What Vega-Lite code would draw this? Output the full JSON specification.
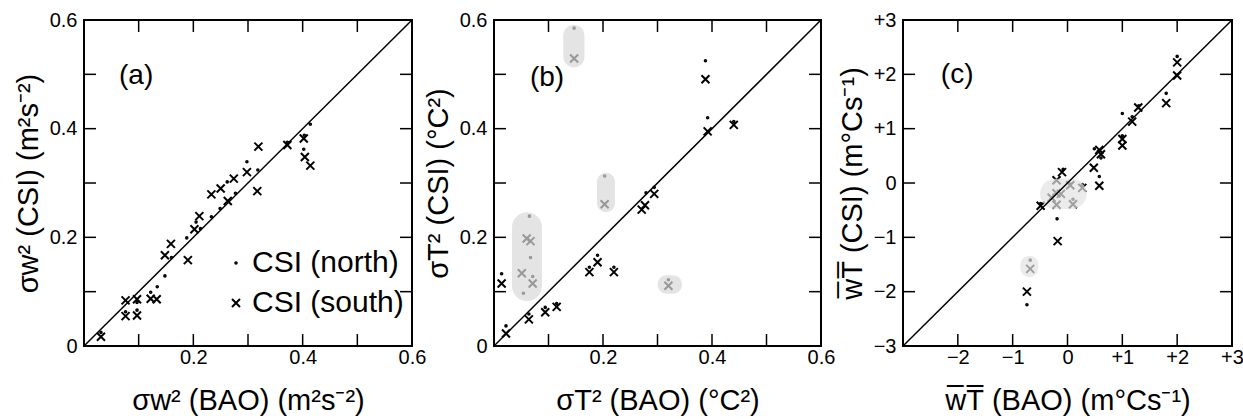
{
  "$schema": "https://vega.github.io/schema/vega-lite/v6.json",
  "background": "white",
  "padding": {"left": 14, "top": 10, "right": 0, "bottom": 5},
  "bounds": "flush",
  "spacing": 82,
  "config": {
    "view": {"stroke": null},
    "axis": {"grid": false, "domain": false, "ticks": false, "labelFont": "Liberation Sans", "labelFontSize": 20, "labelColor": "black", "labelFlush": false, "labelOverlap": false, "titleFont": "Liberation Sans", "titleFontSize": 29, "titleFontWeight": "normal", "titleColor": "black"},
    "axisX": {"labelPadding": 1, "titlePadding": 19},
    "axisY": {"labelPadding": 7, "titlePadding": 6},
    "legend": {"orient": "none", "legendX": 137, "legendY": 228, "title": null, "labelFont": "Liberation Sans", "labelFontSize": 30, "labelColor": "black", "symbolSize": 64, "symbolStrokeWidth": 2, "symbolStrokeColor": "black", "symbolFillColor": "transparent", "rowPadding": 10, "labelOffset": 1}
  },
  "datasets": {
    "one": [{}],
    "tk6": [{"v": 0.1}, {"v": 0.2}, {"v": 0.3}, {"v": 0.4}, {"v": 0.5}],
    "tk3": [{"v": -2}, {"v": -1}, {"v": 0}, {"v": 1}, {"v": 2}],
    "a": [
      {"bao": 0.031, "csi": 0.017, "site": "CSI (south)"},
      {"bao": 0.076, "csi": 0.084, "site": "CSI (south)"},
      {"bao": 0.076, "csi": 0.055, "site": "CSI (south)"},
      {"bao": 0.097, "csi": 0.086, "site": "CSI (south)"},
      {"bao": 0.097, "csi": 0.056, "site": "CSI (south)"},
      {"bao": 0.122, "csi": 0.087, "site": "CSI (south)"},
      {"bao": 0.133, "csi": 0.086, "site": "CSI (south)"},
      {"bao": 0.148, "csi": 0.167, "site": "CSI (south)"},
      {"bao": 0.159, "csi": 0.188, "site": "CSI (south)"},
      {"bao": 0.19, "csi": 0.158, "site": "CSI (south)"},
      {"bao": 0.202, "csi": 0.215, "site": "CSI (south)"},
      {"bao": 0.211, "csi": 0.239, "site": "CSI (south)"},
      {"bao": 0.233, "csi": 0.279, "site": "CSI (south)"},
      {"bao": 0.25, "csi": 0.29, "site": "CSI (south)"},
      {"bao": 0.263, "csi": 0.267, "site": "CSI (south)"},
      {"bao": 0.274, "csi": 0.308, "site": "CSI (south)"},
      {"bao": 0.298, "csi": 0.32, "site": "CSI (south)"},
      {"bao": 0.317, "csi": 0.285, "site": "CSI (south)"},
      {"bao": 0.319, "csi": 0.367, "site": "CSI (south)"},
      {"bao": 0.372, "csi": 0.37, "site": "CSI (south)"},
      {"bao": 0.402, "csi": 0.382, "site": "CSI (south)"},
      {"bao": 0.404, "csi": 0.348, "site": "CSI (south)"},
      {"bao": 0.414, "csi": 0.332, "site": "CSI (south)"},
      {"bao": 0.031, "csi": 0.025, "site": "CSI (north)"},
      {"bao": 0.076, "csi": 0.063, "site": "CSI (north)"},
      {"bao": 0.097, "csi": 0.066, "site": "CSI (north)"},
      {"bao": 0.097, "csi": 0.08, "site": "CSI (north)"},
      {"bao": 0.122, "csi": 0.099, "site": "CSI (north)"},
      {"bao": 0.134, "csi": 0.109, "site": "CSI (north)"},
      {"bao": 0.148, "csi": 0.129, "site": "CSI (north)"},
      {"bao": 0.16, "csi": 0.163, "site": "CSI (north)"},
      {"bao": 0.188, "csi": 0.199, "site": "CSI (north)"},
      {"bao": 0.205, "csi": 0.228, "site": "CSI (north)"},
      {"bao": 0.213, "csi": 0.216, "site": "CSI (north)"},
      {"bao": 0.233, "csi": 0.238, "site": "CSI (north)"},
      {"bao": 0.249, "csi": 0.253, "site": "CSI (north)"},
      {"bao": 0.262, "csi": 0.302, "site": "CSI (north)"},
      {"bao": 0.277, "csi": 0.281, "site": "CSI (north)"},
      {"bao": 0.298, "csi": 0.339, "site": "CSI (north)"},
      {"bao": 0.318, "csi": 0.324, "site": "CSI (north)"},
      {"bao": 0.372, "csi": 0.375, "site": "CSI (north)"},
      {"bao": 0.403, "csi": 0.388, "site": "CSI (north)"},
      {"bao": 0.414, "csi": 0.408, "site": "CSI (north)"},
      {"bao": 0.402, "csi": 0.362, "site": "CSI (north)"}
    ],
    "b": [
      {"bao": 0.147, "csi": 0.529, "site": "CSI (south)"},
      {"bao": 0.388, "csi": 0.491, "site": "CSI (south)"},
      {"bao": 0.392, "csi": 0.395, "site": "CSI (south)"},
      {"bao": 0.44, "csi": 0.407, "site": "CSI (south)"},
      {"bao": 0.203, "csi": 0.261, "site": "CSI (south)"},
      {"bao": 0.271, "csi": 0.251, "site": "CSI (south)"},
      {"bao": 0.277, "csi": 0.259, "site": "CSI (south)"},
      {"bao": 0.294, "csi": 0.28, "site": "CSI (south)"},
      {"bao": 0.06, "csi": 0.198, "site": "CSI (south)"},
      {"bao": 0.067, "csi": 0.193, "site": "CSI (south)"},
      {"bao": 0.051, "csi": 0.134, "site": "CSI (south)"},
      {"bao": 0.071, "csi": 0.115, "site": "CSI (south)"},
      {"bao": 0.014, "csi": 0.115, "site": "CSI (south)"},
      {"bao": 0.064, "csi": 0.049, "site": "CSI (south)"},
      {"bao": 0.094, "csi": 0.062, "site": "CSI (south)"},
      {"bao": 0.115, "csi": 0.072, "site": "CSI (south)"},
      {"bao": 0.022, "csi": 0.023, "site": "CSI (south)"},
      {"bao": 0.175, "csi": 0.136, "site": "CSI (south)"},
      {"bao": 0.19, "csi": 0.154, "site": "CSI (south)"},
      {"bao": 0.22, "csi": 0.136, "site": "CSI (south)"},
      {"bao": 0.32, "csi": 0.111, "site": "CSI (south)"},
      {"bao": 0.147, "csi": 0.585, "site": "CSI (north)"},
      {"bao": 0.388, "csi": 0.525, "site": "CSI (north)"},
      {"bao": 0.392, "csi": 0.42, "site": "CSI (north)"},
      {"bao": 0.44, "csi": 0.413, "site": "CSI (north)"},
      {"bao": 0.203, "csi": 0.313, "site": "CSI (north)"},
      {"bao": 0.279, "csi": 0.282, "site": "CSI (north)"},
      {"bao": 0.294, "csi": 0.292, "site": "CSI (north)"},
      {"bao": 0.065, "csi": 0.239, "site": "CSI (north)"},
      {"bao": 0.067, "csi": 0.163, "site": "CSI (north)"},
      {"bao": 0.071, "csi": 0.128, "site": "CSI (north)"},
      {"bao": 0.054, "csi": 0.097, "site": "CSI (north)"},
      {"bao": 0.014, "csi": 0.133, "site": "CSI (north)"},
      {"bao": 0.064, "csi": 0.059, "site": "CSI (north)"},
      {"bao": 0.094, "csi": 0.071, "site": "CSI (north)"},
      {"bao": 0.115, "csi": 0.078, "site": "CSI (north)"},
      {"bao": 0.022, "csi": 0.037, "site": "CSI (north)"},
      {"bao": 0.175, "csi": 0.145, "site": "CSI (north)"},
      {"bao": 0.19, "csi": 0.167, "site": "CSI (north)"},
      {"bao": 0.22, "csi": 0.145, "site": "CSI (north)"},
      {"bao": 0.32, "csi": 0.122, "site": "CSI (north)"}
    ],
    "c": [
      {"bao": 2.0, "csi": 2.22, "site": "CSI (south)"},
      {"bao": 2.0, "csi": 1.98, "site": "CSI (south)"},
      {"bao": 1.8, "csi": 1.47, "site": "CSI (south)"},
      {"bao": 1.29, "csi": 1.39, "site": "CSI (south)"},
      {"bao": 1.18, "csi": 1.13, "site": "CSI (south)"},
      {"bao": 1.0, "csi": 0.81, "site": "CSI (south)"},
      {"bao": 1.0, "csi": 0.69, "site": "CSI (south)"},
      {"bao": 0.58, "csi": 0.61, "site": "CSI (south)"},
      {"bao": 0.61, "csi": 0.53, "site": "CSI (south)"},
      {"bao": 0.48, "csi": 0.28, "site": "CSI (south)"},
      {"bao": 0.58, "csi": -0.05, "site": "CSI (south)"},
      {"bao": 0.27, "csi": -0.09, "site": "CSI (south)"},
      {"bao": 0.1, "csi": -0.39, "site": "CSI (south)"},
      {"bao": 0.05, "csi": -0.04, "site": "CSI (south)"},
      {"bao": -0.2, "csi": 0.05, "site": "CSI (south)"},
      {"bao": -0.1, "csi": 0.2, "site": "CSI (south)"},
      {"bao": -0.2, "csi": -0.19, "site": "CSI (south)"},
      {"bao": -0.29, "csi": -0.27, "site": "CSI (south)"},
      {"bao": -0.2, "csi": -0.4, "site": "CSI (south)"},
      {"bao": -0.12, "csi": -0.2, "site": "CSI (south)"},
      {"bao": -0.49, "csi": -0.42, "site": "CSI (south)"},
      {"bao": -0.18, "csi": -1.07, "site": "CSI (south)"},
      {"bao": -0.68, "csi": -1.58, "site": "CSI (south)"},
      {"bao": -0.74, "csi": -2.0, "site": "CSI (south)"},
      {"bao": 2.0, "csi": 2.33, "site": "CSI (north)"},
      {"bao": 1.8, "csi": 1.65, "site": "CSI (north)"},
      {"bao": 1.3, "csi": 1.42, "site": "CSI (north)"},
      {"bao": 1.18, "csi": 1.22, "site": "CSI (north)"},
      {"bao": 1.0, "csi": 1.28, "site": "CSI (north)"},
      {"bao": 1.0, "csi": 0.87, "site": "CSI (north)"},
      {"bao": 0.49, "csi": 0.63, "site": "CSI (north)"},
      {"bao": 0.61, "csi": 0.46, "site": "CSI (north)"},
      {"bao": 0.58, "csi": 0.12, "site": "CSI (north)"},
      {"bao": 0.27, "csi": -0.03, "site": "CSI (north)"},
      {"bao": 0.1, "csi": -0.3, "site": "CSI (north)"},
      {"bao": 0.05, "csi": -0.02, "site": "CSI (north)"},
      {"bao": -0.08, "csi": 0.25, "site": "CSI (north)"},
      {"bao": -0.49, "csi": -0.38, "site": "CSI (north)"},
      {"bao": -0.19, "csi": -0.66, "site": "CSI (north)"},
      {"bao": -0.68, "csi": -1.42, "site": "CSI (north)"},
      {"bao": -0.74, "csi": -2.24, "site": "CSI (north)"},
      {"bao": -0.25, "csi": -0.22, "site": "CSI (north)"}
    ],
    "shadeB": [
      {"x1": 0.127, "x2": 0.166, "y1": 0.513, "y2": 0.591},
      {"x1": 0.189, "x2": 0.222, "y1": 0.246, "y2": 0.319},
      {"x1": 0.033, "x2": 0.088, "y1": 0.083, "y2": 0.246},
      {"x1": 0.3, "x2": 0.345, "y1": 0.096, "y2": 0.13}
    ],
    "shadeC": [
      {"x1": -0.86, "x2": -0.53, "y1": -1.73, "y2": -1.34},
      {"x1": -0.5, "x2": 0.35, "y1": -0.48, "y2": 0.08}
    ]
  },
  "resolve": {"scale": {"shape": "independent"}, "legend": {"shape": "independent"}},
  "hconcat": [
    {
      "width": 328, "height": 326,
      "resolve": {"axis": {"x": "independent", "y": "independent"}},
      "encoding": {
        "x": {"type": "quantitative", "scale": {"domain": [0, 0.6], "nice": false}},
        "y": {"type": "quantitative", "scale": {"domain": [0, 0.6], "nice": false}}
      },
      "layer": [
        {
          "data": {"name": "a"},
          "mark": {"type": "point", "filled": false, "color": "black", "strokeWidth": 2, "size": 64, "opacity": 1},
          "encoding": {
            "x": {"field": "bao", "axis": {"orient": "bottom", "values": [0.2, 0.4, 0.6], "format": ".1f", "title": "σw² (BAO) (m²s⁻²)"}},
            "y": {"field": "csi", "axis": {"orient": "left", "values": [0, 0.2, 0.4, 0.6], "labelExpr": "datum.value < 0.01 ? '0' : format(datum.value, '.1f')", "title": "σw² (CSI) (m²s⁻²)"}},
            "shape": {"field": "site", "type": "nominal", "scale": {"domain": ["CSI (north)", "CSI (south)"], "range": ["M-0.2,0A0.2,0.2 0 1,0 0.2,0A0.2,0.2 0 1,0 -0.2,0Z", "M-1,-1L1,1M1,-1L-1,1"]}}
          }
        },
        {"data": {"name": "one"}, "mark": {"type": "rect", "filled": false, "stroke": "black", "strokeWidth": 2}, "encoding": {"x": {"datum": 0, "axis": null}, "x2": {"datum": 0.6}, "y": {"datum": 0, "axis": null}, "y2": {"datum": 0.6}}},
        {"data": {"name": "tk6"}, "mark": {"type": "rule", "color": "black", "strokeWidth": 1.5}, "encoding": {"x": {"field": "v", "axis": null}, "y": {"datum": 0, "axis": null}, "y2": {"datum": 0.022}}},
        {"data": {"name": "tk6"}, "mark": {"type": "rule", "color": "black", "strokeWidth": 1.5}, "encoding": {"x": {"field": "v", "axis": null}, "y": {"datum": 0.6, "axis": null}, "y2": {"datum": 0.578}}},
        {"data": {"name": "tk6"}, "mark": {"type": "rule", "color": "black", "strokeWidth": 1.5}, "encoding": {"y": {"field": "v", "axis": null}, "x": {"datum": 0, "axis": null}, "x2": {"datum": 0.022}}},
        {"data": {"name": "tk6"}, "mark": {"type": "rule", "color": "black", "strokeWidth": 1.5}, "encoding": {"y": {"field": "v", "axis": null}, "x": {"datum": 0.6, "axis": null}, "x2": {"datum": 0.578}}},
        {"data": {"name": "one"}, "mark": {"type": "rule", "color": "black", "strokeWidth": 1.5}, "encoding": {"x": {"datum": 0, "axis": null}, "y": {"datum": 0, "axis": null}, "x2": {"datum": 0.6}, "y2": {"datum": 0.6}}},
        {"data": {"name": "one"}, "mark": {"type": "text", "text": "(a)", "font": "Liberation Sans", "fontSize": 28, "align": "left", "baseline": "middle", "color": "black"}, "encoding": {"x": {"datum": 0.064, "axis": null}, "y": {"datum": 0.497, "axis": null}}}
      ]
    },
    {
      "width": 327, "height": 326,
      "resolve": {"axis": {"x": "independent", "y": "independent"}},
      "encoding": {
        "x": {"type": "quantitative", "scale": {"domain": [0, 0.6], "nice": false}},
        "y": {"type": "quantitative", "scale": {"domain": [0, 0.6], "nice": false}}
      },
      "layer": [
        {
          "data": {"name": "b"},
          "mark": {"type": "point", "filled": false, "color": "black", "strokeWidth": 2, "size": 64, "opacity": 1},
          "encoding": {
            "x": {"field": "bao", "axis": {"orient": "bottom", "values": [0.2, 0.4, 0.6], "format": ".1f", "title": "σT² (BAO) (°C²)"}},
            "y": {"field": "csi", "axis": {"orient": "left", "values": [0, 0.2, 0.4, 0.6], "labelExpr": "datum.value < 0.01 ? '0' : format(datum.value, '.1f')", "title": "σT² (CSI) (°C²)"}},
            "shape": {"field": "site", "type": "nominal", "legend": null, "scale": {"domain": ["CSI (north)", "CSI (south)"], "range": ["M-0.2,0A0.2,0.2 0 1,0 0.2,0A0.2,0.2 0 1,0 -0.2,0Z", "M-1,-1L1,1M1,-1L-1,1"]}}
          }
        },
        {"data": {"name": "shadeB"}, "mark": {"type": "rect", "color": "#d9d9d9", "cornerRadius": 100, "opacity": 0.7}, "encoding": {"x": {"field": "x1", "axis": null}, "x2": {"field": "x2"}, "y": {"field": "y1", "axis": null}, "y2": {"field": "y2"}}},
        {"data": {"name": "one"}, "mark": {"type": "rect", "filled": false, "stroke": "black", "strokeWidth": 2}, "encoding": {"x": {"datum": 0, "axis": null}, "x2": {"datum": 0.6}, "y": {"datum": 0, "axis": null}, "y2": {"datum": 0.6}}},
        {"data": {"name": "tk6"}, "mark": {"type": "rule", "color": "black", "strokeWidth": 1.5}, "encoding": {"x": {"field": "v", "axis": null}, "y": {"datum": 0, "axis": null}, "y2": {"datum": 0.022}}},
        {"data": {"name": "tk6"}, "mark": {"type": "rule", "color": "black", "strokeWidth": 1.5}, "encoding": {"x": {"field": "v", "axis": null}, "y": {"datum": 0.6, "axis": null}, "y2": {"datum": 0.578}}},
        {"data": {"name": "tk6"}, "mark": {"type": "rule", "color": "black", "strokeWidth": 1.5}, "encoding": {"y": {"field": "v", "axis": null}, "x": {"datum": 0, "axis": null}, "x2": {"datum": 0.022}}},
        {"data": {"name": "tk6"}, "mark": {"type": "rule", "color": "black", "strokeWidth": 1.5}, "encoding": {"y": {"field": "v", "axis": null}, "x": {"datum": 0.6, "axis": null}, "x2": {"datum": 0.578}}},
        {"data": {"name": "one"}, "mark": {"type": "rule", "color": "black", "strokeWidth": 1.5}, "encoding": {"x": {"datum": 0, "axis": null}, "y": {"datum": 0, "axis": null}, "x2": {"datum": 0.6}, "y2": {"datum": 0.6}}},
        {"data": {"name": "one"}, "mark": {"type": "text", "text": "(b)", "font": "Liberation Sans", "fontSize": 28, "align": "left", "baseline": "middle", "color": "black"}, "encoding": {"x": {"datum": 0.066, "axis": null}, "y": {"datum": 0.494, "axis": null}}}
      ]
    },
    {
      "width": 329, "height": 326,
      "resolve": {"axis": {"x": "independent", "y": "independent"}},
      "encoding": {
        "x": {"type": "quantitative", "scale": {"domain": [-3, 3], "nice": false}},
        "y": {"type": "quantitative", "scale": {"domain": [-3, 3], "nice": false}}
      },
      "layer": [
        {
          "data": {"name": "c"},
          "mark": {"type": "point", "filled": false, "color": "black", "strokeWidth": 2, "size": 64, "opacity": 1},
          "encoding": {
            "x": {"field": "bao", "axis": {"orient": "bottom", "values": [-2, -1, 0, 1, 2, 3], "labelExpr": "datum.value > 0 ? '+' + datum.value : (datum.value < 0 ? '−' + abs(datum.value) : '0')", "title": "w̅T̅ (BAO) (m°Cs⁻¹)"}},
            "y": {"field": "csi", "axis": {"orient": "left", "values": [-3, -2, -1, 0, 1, 2, 3], "labelExpr": "datum.value > 0 ? '+' + datum.value : (datum.value < 0 ? '−' + abs(datum.value) : '0')", "title": "w̅T̅ (CSI) (m°Cs⁻¹)"}},
            "shape": {"field": "site", "type": "nominal", "legend": null, "scale": {"domain": ["CSI (north)", "CSI (south)"], "range": ["M-0.2,0A0.2,0.2 0 1,0 0.2,0A0.2,0.2 0 1,0 -0.2,0Z", "M-1,-1L1,1M1,-1L-1,1"]}}
          }
        },
        {"data": {"name": "shadeC"}, "mark": {"type": "rect", "color": "#e3e3e3", "cornerRadius": 100, "opacity": 0.7}, "encoding": {"x": {"field": "x1", "axis": null}, "x2": {"field": "x2"}, "y": {"field": "y1", "axis": null}, "y2": {"field": "y2"}}},
        {"data": {"name": "one"}, "mark": {"type": "rect", "filled": false, "stroke": "black", "strokeWidth": 2}, "encoding": {"x": {"datum": -3, "axis": null}, "x2": {"datum": 3}, "y": {"datum": -3, "axis": null}, "y2": {"datum": 3}}},
        {"data": {"name": "tk3"}, "mark": {"type": "rule", "color": "black", "strokeWidth": 1.5}, "encoding": {"x": {"field": "v", "axis": null}, "y": {"datum": -3, "axis": null}, "y2": {"datum": -2.78}}},
        {"data": {"name": "tk3"}, "mark": {"type": "rule", "color": "black", "strokeWidth": 1.5}, "encoding": {"x": {"field": "v", "axis": null}, "y": {"datum": 3, "axis": null}, "y2": {"datum": 2.78}}},
        {"data": {"name": "tk3"}, "mark": {"type": "rule", "color": "black", "strokeWidth": 1.5}, "encoding": {"y": {"field": "v", "axis": null}, "x": {"datum": -3, "axis": null}, "x2": {"datum": -2.78}}},
        {"data": {"name": "tk3"}, "mark": {"type": "rule", "color": "black", "strokeWidth": 1.5}, "encoding": {"y": {"field": "v", "axis": null}, "x": {"datum": 3, "axis": null}, "x2": {"datum": 2.78}}},
        {"data": {"name": "one"}, "mark": {"type": "rule", "color": "black", "strokeWidth": 1.5}, "encoding": {"x": {"datum": -3, "axis": null}, "y": {"datum": -3, "axis": null}, "x2": {"datum": 3}, "y2": {"datum": 3}}},
        {"data": {"name": "one"}, "mark": {"type": "text", "text": "(c)", "font": "Liberation Sans", "fontSize": 28, "align": "left", "baseline": "middle", "color": "black"}, "encoding": {"x": {"datum": -2.31, "axis": null}, "y": {"datum": 1.98, "axis": null}}}
      ]
    }
  ]
}
